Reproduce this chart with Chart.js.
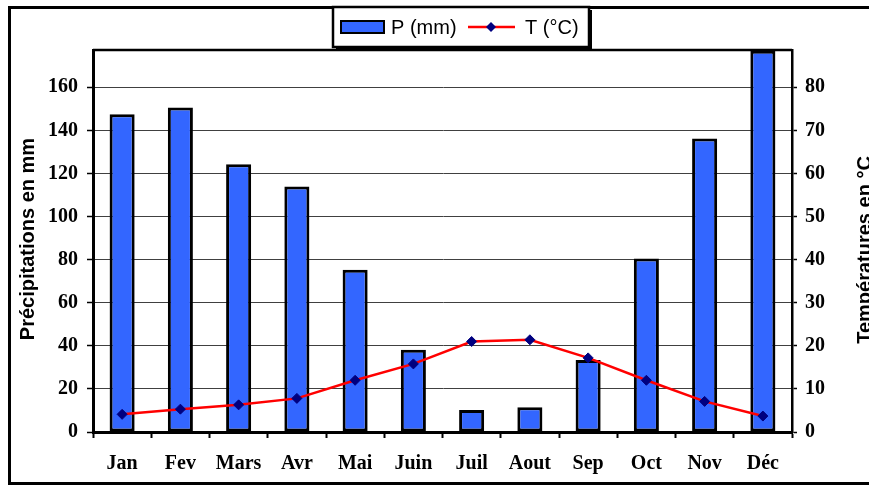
<!DOCTYPE html>
<html>
<head>
<meta charset="utf-8">
<script src="https://cdn.jsdelivr.net/npm/chart.js@4.4.1/dist/chart.umd.min.js"></script>
<style>
html,body{margin:0;padding:0;background:#fff;}
canvas{display:block;}
</style>
</head>
<body>
<canvas id="c" width="869" height="486"></canvas>
<script>
const months = ['Jan','Fev','Mars','Avr','Mai','Juin','Juil','Aout','Sep','Oct','Nov','Déc'];
const precipitation = [147.5, 150.6, 124.3, 113.9, 75.3, 38.2, 10.2, 11.5, 33.4, 80.5, 136.2, 177];
const temperature = [4.1, 5.3, 6.3, 7.8, 12.0, 15.8, 21.0, 21.4, 17.2, 12.0, 7.1, 3.7];
const leftTitle = 'Précipitations en mm';
const rightTitle = 'Températures en °C';
const legendP = 'P (mm)';
const legendT = 'T (°C)';

const BLUE = '#3366FF', RED = '#FF0000', NAVY = '#000080';

const decor = {
  id: 'decor',
  beforeDraw(chart) {
    const ctx = chart.ctx;
    ctx.save();
    ctx.fillStyle = '#fff';
    ctx.fillRect(0, 0, chart.width, chart.height);
    ctx.strokeStyle = '#000';
    ctx.lineWidth = 3;
    ctx.strokeRect(9.5, 7.5, 900, 476);
    ctx.restore();
  },
  beforeDatasetsDraw(chart) {
    const ctx = chart.ctx, a = chart.chartArea;
    ctx.save();
    ctx.strokeStyle = '#000';
    ctx.lineWidth = 2.5;
    ctx.beginPath();
    ctx.moveTo(a.left, a.top);
    ctx.lineTo(a.right, a.top);
    ctx.stroke();
    ctx.restore();
  },
  afterDraw(chart) {
    const ctx = chart.ctx;
    ctx.save();
    // axis titles
    ctx.fillStyle = '#000';
    ctx.font = 'bold 20px "Liberation Sans", Arial, sans-serif';
    ctx.textAlign = 'center';
    ctx.textBaseline = 'middle';
    ctx.save(); ctx.translate(28, 239); ctx.rotate(-Math.PI/2); ctx.fillText(leftTitle, 0, 0); ctx.restore();
    ctx.save(); ctx.translate(865, 250); ctx.rotate(-Math.PI/2); ctx.fillText(rightTitle, 0, 0); ctx.restore();
    // legend
    ctx.fillStyle = '#000';
    ctx.fillRect(336, 10, 256, 40);
    ctx.fillStyle = '#fff';
    ctx.fillRect(333, 7, 256, 40);
    ctx.strokeStyle = '#000';
    ctx.lineWidth = 2.5;
    ctx.strokeRect(333, 7, 256, 40);
    ctx.fillStyle = BLUE;
    ctx.fillRect(341, 21, 43, 12);
    ctx.lineWidth = 2;
    ctx.strokeRect(341, 21, 43, 12);
    ctx.fillStyle = '#000';
    ctx.font = '20px "Liberation Sans", Arial, sans-serif';
    ctx.textAlign = 'left';
    ctx.textBaseline = 'alphabetic';
    ctx.fillText(legendP, 391, 34);
    ctx.strokeStyle = RED;
    ctx.lineWidth = 2.5;
    ctx.beginPath(); ctx.moveTo(468, 27); ctx.lineTo(515, 27); ctx.stroke();
    ctx.fillStyle = NAVY;
    ctx.beginPath(); ctx.moveTo(491, 22); ctx.lineTo(496, 27); ctx.lineTo(491, 32); ctx.lineTo(486, 27); ctx.closePath(); ctx.fill();
    ctx.fillStyle = '#000';
    ctx.fillText(legendT, 525, 34);
    ctx.restore();
  }
};

const tickFont = { family: '"Liberation Serif", "Times New Roman", serif', weight: 'bold', size: 20 };

new Chart(document.getElementById('c'), {
  data: {
    labels: months,
    datasets: [
      {
        type: 'line', label: legendT, data: temperature, yAxisID: 'y1', order: 1,
        borderColor: RED, borderWidth: 2.5, tension: 0,
        pointStyle: 'rectRot', pointRadius: 5, pointBackgroundColor: NAVY, pointBorderColor: NAVY, pointBorderWidth: 1
      },
      {
        type: 'bar', label: legendP, data: precipitation, yAxisID: 'y', order: 2,
        backgroundColor: BLUE, borderColor: '#000', borderWidth: 3, borderSkipped: false,
        categoryPercentage: 1, barPercentage: 0.43
      }
    ]
  },
  options: {
    responsive: false,
    animation: false,
    layout: { padding: { top: 50, left: 0, right: 0, bottom: 0 } },
    plugins: { legend: { display: false }, tooltip: { enabled: false } },
    scales: {
      x: {
        afterFit(s) { s.height = 54; },
        grid: { display: true, drawOnChartArea: false, offset: true, tickLength: 6, tickColor: '#000', tickWidth: 2 },
        border: { color: '#000', width: 3 },
        ticks: { font: tickFont, color: '#000', padding: 14, maxRotation: 0, autoSkip: false }
      },
      y: {
        position: 'left', min: 0, max: 177.3,
        afterFit(s) { s.width = 93; },
        grid: { color: '#404040', lineWidth: 1, tickLength: 6, tickColor: '#000', tickWidth: 1.5 },
        border: { color: '#000', width: 3 },
        ticks: { stepSize: 20, includeBounds: false, font: tickFont, color: '#000', padding: 9 }
      },
      y1: {
        position: 'right', min: 0, max: 88.65,
        afterFit(s) { s.width = 77; },
        grid: { drawOnChartArea: false, tickLength: 5, tickColor: '#000', tickWidth: 1.5 },
        border: { color: '#000', width: 2.5 },
        ticks: { stepSize: 10, includeBounds: false, font: tickFont, color: '#000', padding: 8 }
      }
    }
  },
  plugins: [decor]
});
</script>
</body>
</html>
